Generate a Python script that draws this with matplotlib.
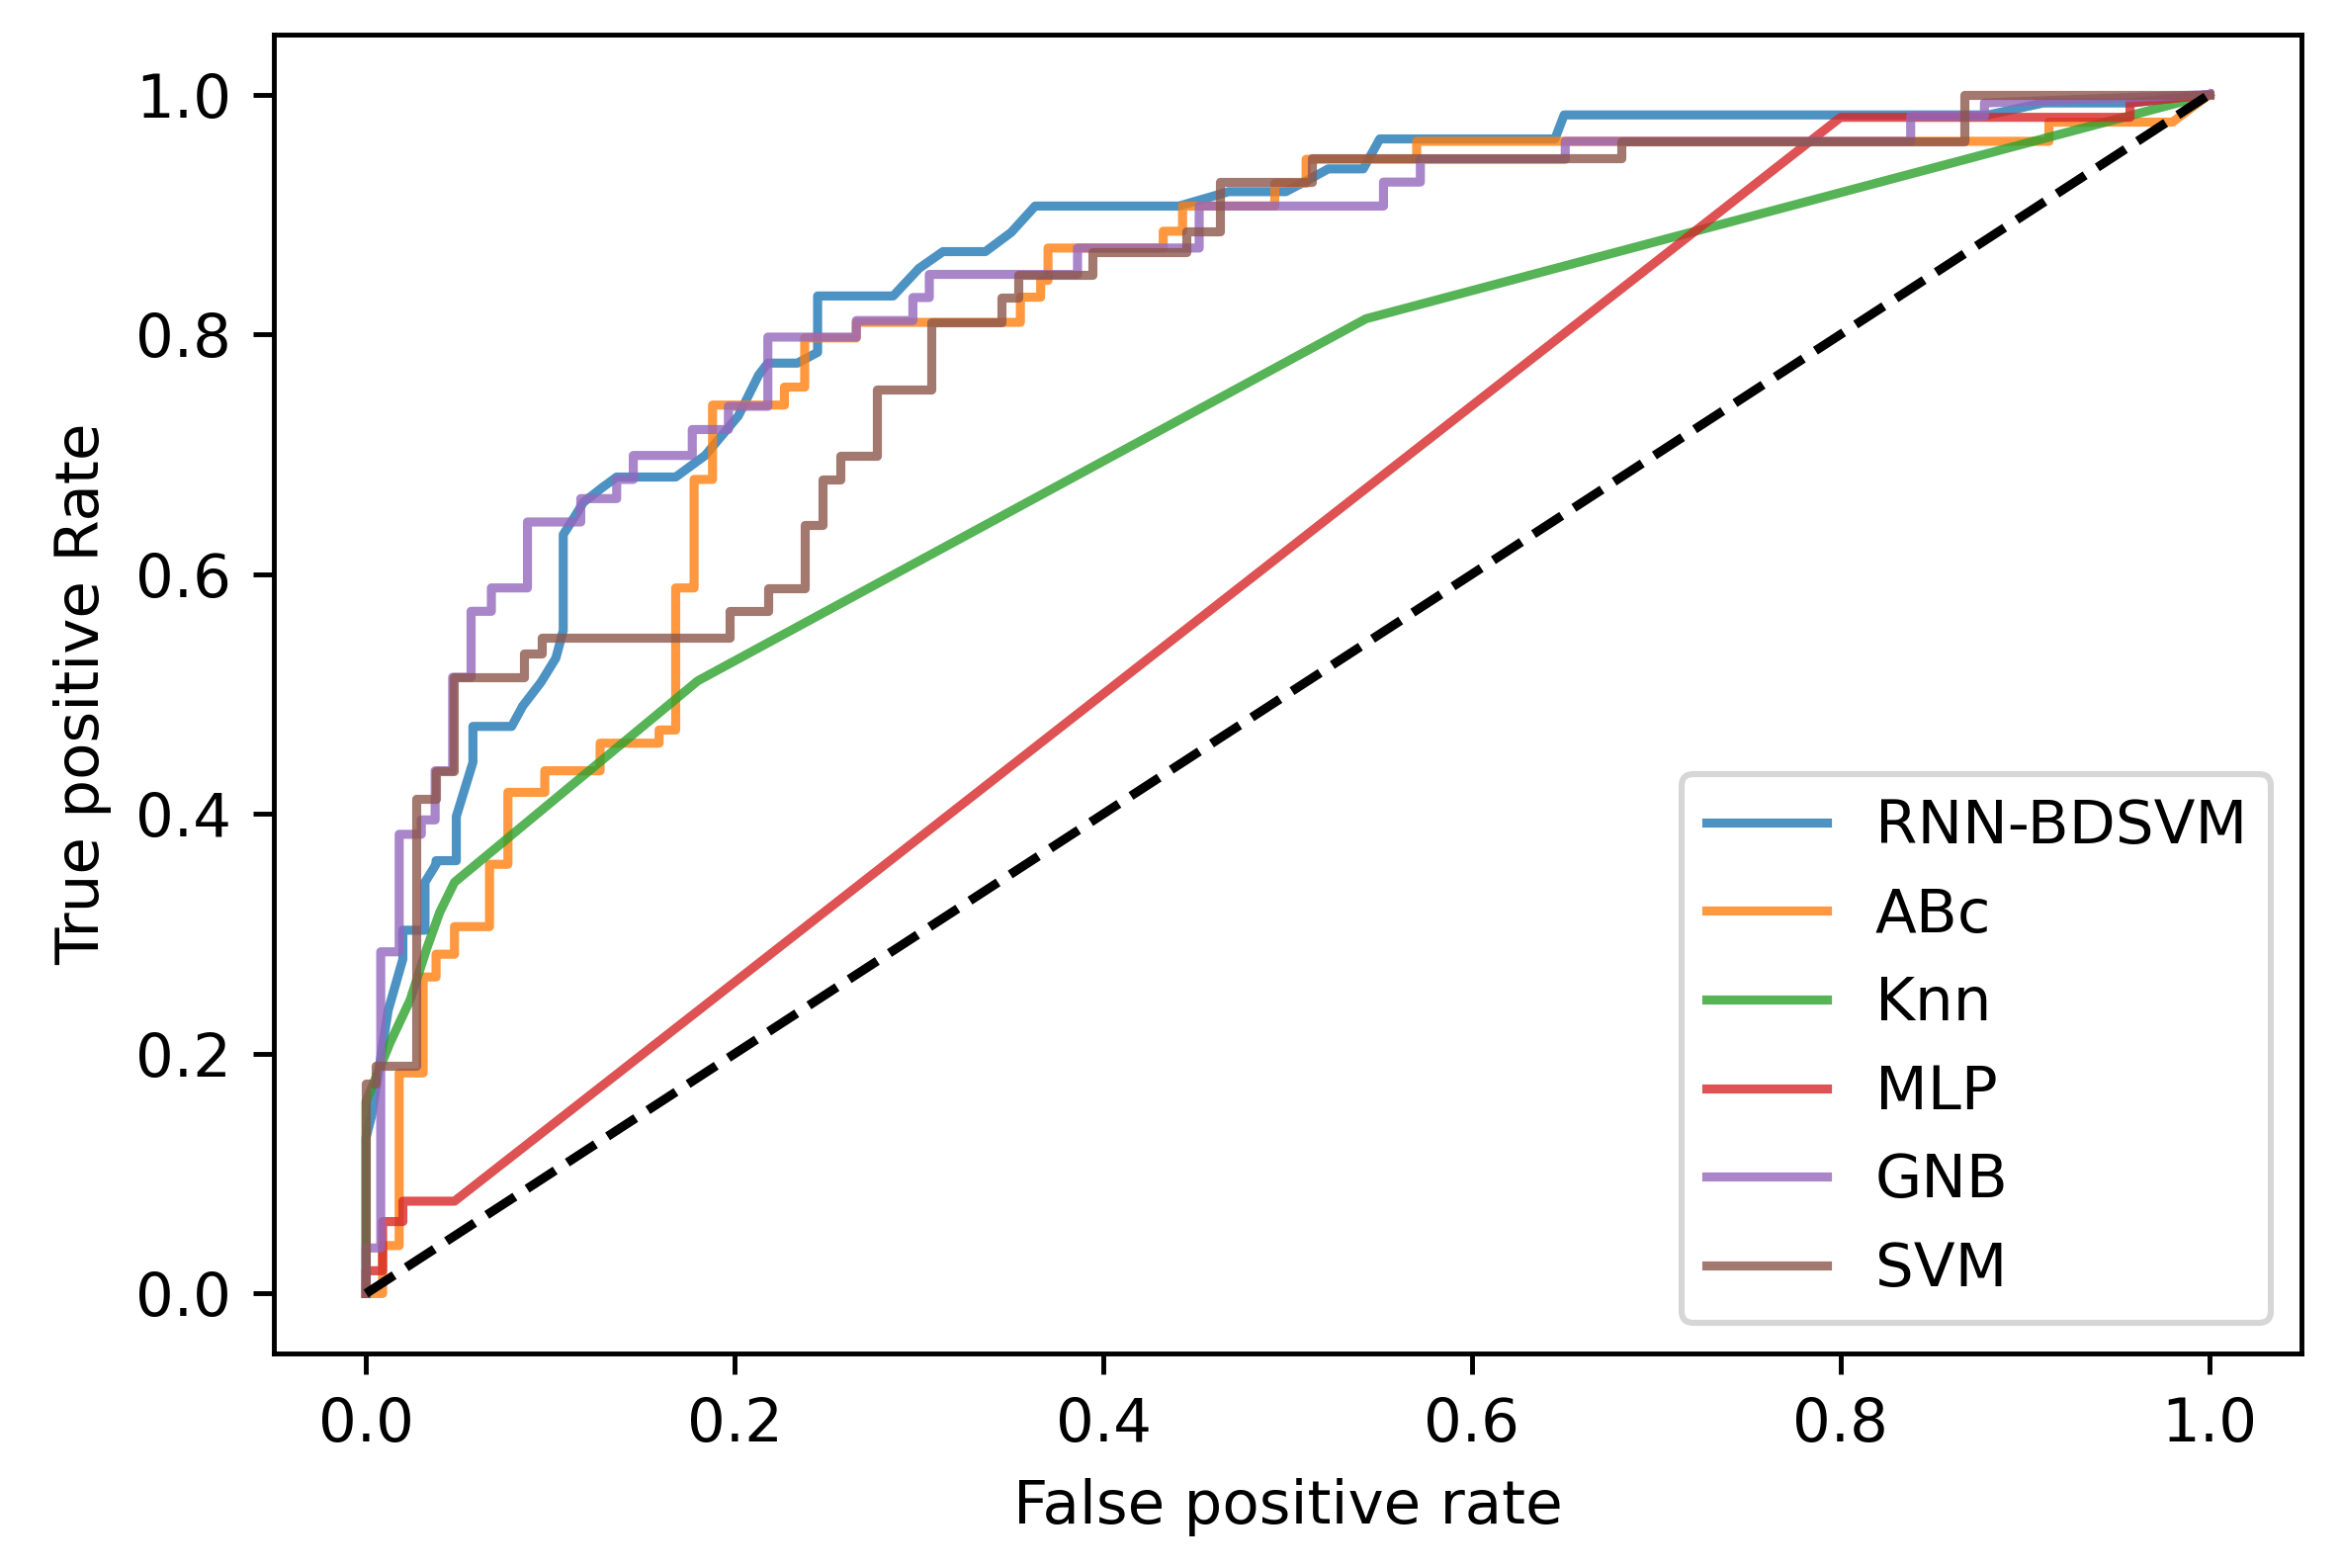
import matplotlib
matplotlib.use("Agg")
import matplotlib.pyplot as plt

# ROC points (fpr, tpr)
rnn_fpr = [0.0, 0.0, 0.003, 0.012, 0.020, 0.020, 0.032, 0.032, 0.038, 0.038, 0.049, 0.049,
           0.058, 0.058, 0.079, 0.085, 0.095, 0.103, 0.107, 0.107, 0.112, 0.118, 0.128, 0.136,
           0.168, 0.184, 0.202, 0.213, 0.218, 0.234, 0.245, 0.245, 0.286, 0.300, 0.313, 0.336,
           0.350, 0.363, 0.441, 0.468, 0.499, 0.515, 0.522, 0.541, 0.550, 0.645, 0.650, 0.880,
           0.910, 0.957, 1.0]
rnn_tpr = [0.0, 0.13, 0.148, 0.236, 0.279, 0.303, 0.303, 0.343, 0.358, 0.361, 0.361, 0.398,
           0.443, 0.473, 0.473, 0.49, 0.51, 0.53, 0.553, 0.633, 0.645, 0.66, 0.672, 0.681,
           0.681, 0.699, 0.732, 0.766, 0.776, 0.776, 0.785, 0.832, 0.832, 0.855, 0.869, 0.869,
           0.885, 0.907, 0.907, 0.919, 0.919, 0.932, 0.938, 0.938, 0.963, 0.963, 0.983, 0.983,
           0.993, 0.993, 1.0]

abc_fpr = [0.0, 0.009, 0.009, 0.018, 0.018, 0.031, 0.031, 0.038, 0.038, 0.048, 0.048, 0.067,
           0.067, 0.077, 0.077, 0.097, 0.097, 0.127, 0.127, 0.159, 0.159, 0.168, 0.168, 0.178,
           0.178, 0.188, 0.188, 0.227, 0.227, 0.238, 0.238, 0.266, 0.266, 0.355, 0.355, 0.366,
           0.366, 0.370, 0.370, 0.4325, 0.4325, 0.443, 0.443, 0.493, 0.493, 0.510, 0.510, 0.570,
           0.570, 0.913, 0.913, 0.980, 1.0]
abc_tpr = [0.0, 0.0, 0.040, 0.040, 0.184, 0.184, 0.264, 0.264, 0.283, 0.283, 0.306, 0.306,
           0.358, 0.358, 0.418, 0.418, 0.436, 0.436, 0.459, 0.459, 0.470, 0.470, 0.5885, 0.5885,
           0.679, 0.679, 0.741, 0.741, 0.756, 0.756, 0.797, 0.797, 0.810, 0.810, 0.831, 0.831,
           0.845, 0.845, 0.872, 0.872, 0.886, 0.886, 0.907, 0.907, 0.926, 0.926, 0.946, 0.946,
           0.961, 0.961, 0.977, 0.977, 1.0]

knn_fpr = [0.0, 0.0, 0.013, 0.024, 0.033, 0.040, 0.048, 0.180, 0.5425, 1.0]
knn_tpr = [0.0, 0.16, 0.209, 0.245, 0.288, 0.318, 0.343, 0.511, 0.813, 1.0]

mlp_fpr = [0.0, 0.0, 0.009, 0.009, 0.020, 0.020, 0.048, 0.800, 0.957, 0.957, 1.0]
mlp_tpr = [0.0, 0.019, 0.019, 0.060, 0.060, 0.077, 0.077, 0.981, 0.981, 0.993, 1.0]

gnb_fpr = [0.0, 0.0, 0.008, 0.008, 0.018, 0.018, 0.030, 0.030, 0.0375, 0.0375, 0.047, 0.047,
           0.057, 0.057, 0.068, 0.068, 0.0876, 0.0876, 0.1165, 0.1165, 0.136, 0.136, 0.145, 0.145,
           0.177, 0.177, 0.1966, 0.1966, 0.218, 0.218, 0.266, 0.266, 0.2967, 0.2967, 0.3056, 0.3056,
           0.386, 0.386, 0.452, 0.452, 0.552, 0.552, 0.572, 0.572, 0.6506, 0.6506, 0.838, 0.838,
           0.878, 0.878, 1.0]
gnb_tpr = [0.0, 0.038, 0.038, 0.285, 0.285, 0.383, 0.383, 0.395, 0.395, 0.436, 0.436, 0.514,
           0.514, 0.569, 0.569, 0.5885, 0.5885, 0.6435, 0.6435, 0.663, 0.663, 0.679, 0.679, 0.699,
           0.699, 0.7206, 0.7206, 0.740, 0.740, 0.7977, 0.7977, 0.8115, 0.8115, 0.8307, 0.8307, 0.850,
           0.850, 0.872, 0.872, 0.907, 0.907, 0.927, 0.927, 0.946, 0.946, 0.961, 0.961, 0.982,
           0.982, 0.993, 1.0]

svm_fpr = [0.0, 0.0, 0.0054, 0.0054, 0.0273, 0.0273, 0.038, 0.038, 0.0478, 0.0478, 0.0858, 0.0858,
           0.0956, 0.0956, 0.1975, 0.1975, 0.218, 0.218, 0.238, 0.238, 0.2475, 0.2475, 0.2574, 0.2574,
           0.277, 0.277, 0.3065, 0.3065, 0.345, 0.345, 0.354, 0.354, 0.394, 0.394, 0.445, 0.445,
           0.463, 0.463, 0.513, 0.513, 0.681, 0.681, 0.867, 0.867, 1.0]
svm_tpr = [0.0, 0.175, 0.175, 0.190, 0.190, 0.413, 0.413, 0.436, 0.436, 0.514, 0.514, 0.5335,
           0.5335, 0.547, 0.547, 0.569, 0.569, 0.5885, 0.5885, 0.641, 0.641, 0.679, 0.679, 0.6986,
           0.6986, 0.7537, 0.7537, 0.810, 0.810, 0.8307, 0.8307, 0.850, 0.850, 0.869, 0.869, 0.886,
           0.886, 0.927, 0.927, 0.947, 0.947, 0.961, 0.961, 1.0, 1.0]

names = ['RNN-BDSVM', 'ABc', 'Knn', 'MLP', 'GNB', 'SVM']
curves = [(rnn_fpr, rnn_tpr), (abc_fpr, abc_tpr), (knn_fpr, knn_tpr),
          (mlp_fpr, mlp_tpr), (gnb_fpr, gnb_tpr), (svm_fpr, svm_tpr)]

dpi = 440
fig, ax = plt.subplots(figsize=(2368 / dpi, 1586 / dpi), dpi=dpi)
fig.subplots_adjust(left=277 / 2368, right=2328 / 2368,
                    bottom=(1586 - 1369) / 1586, top=(1586 - 35) / 1586)

for name, (fpr, tpr) in zip(names, curves):
    ax.plot(fpr, tpr, label=name, alpha=0.8)

ax.plot([0, 1], [0, 1], 'k--')

ax.set_xlabel('False positive rate')
ax.set_ylabel('True positive Rate')
ax.legend(loc='lower right')

fig.savefig('out.png', dpi=dpi)
